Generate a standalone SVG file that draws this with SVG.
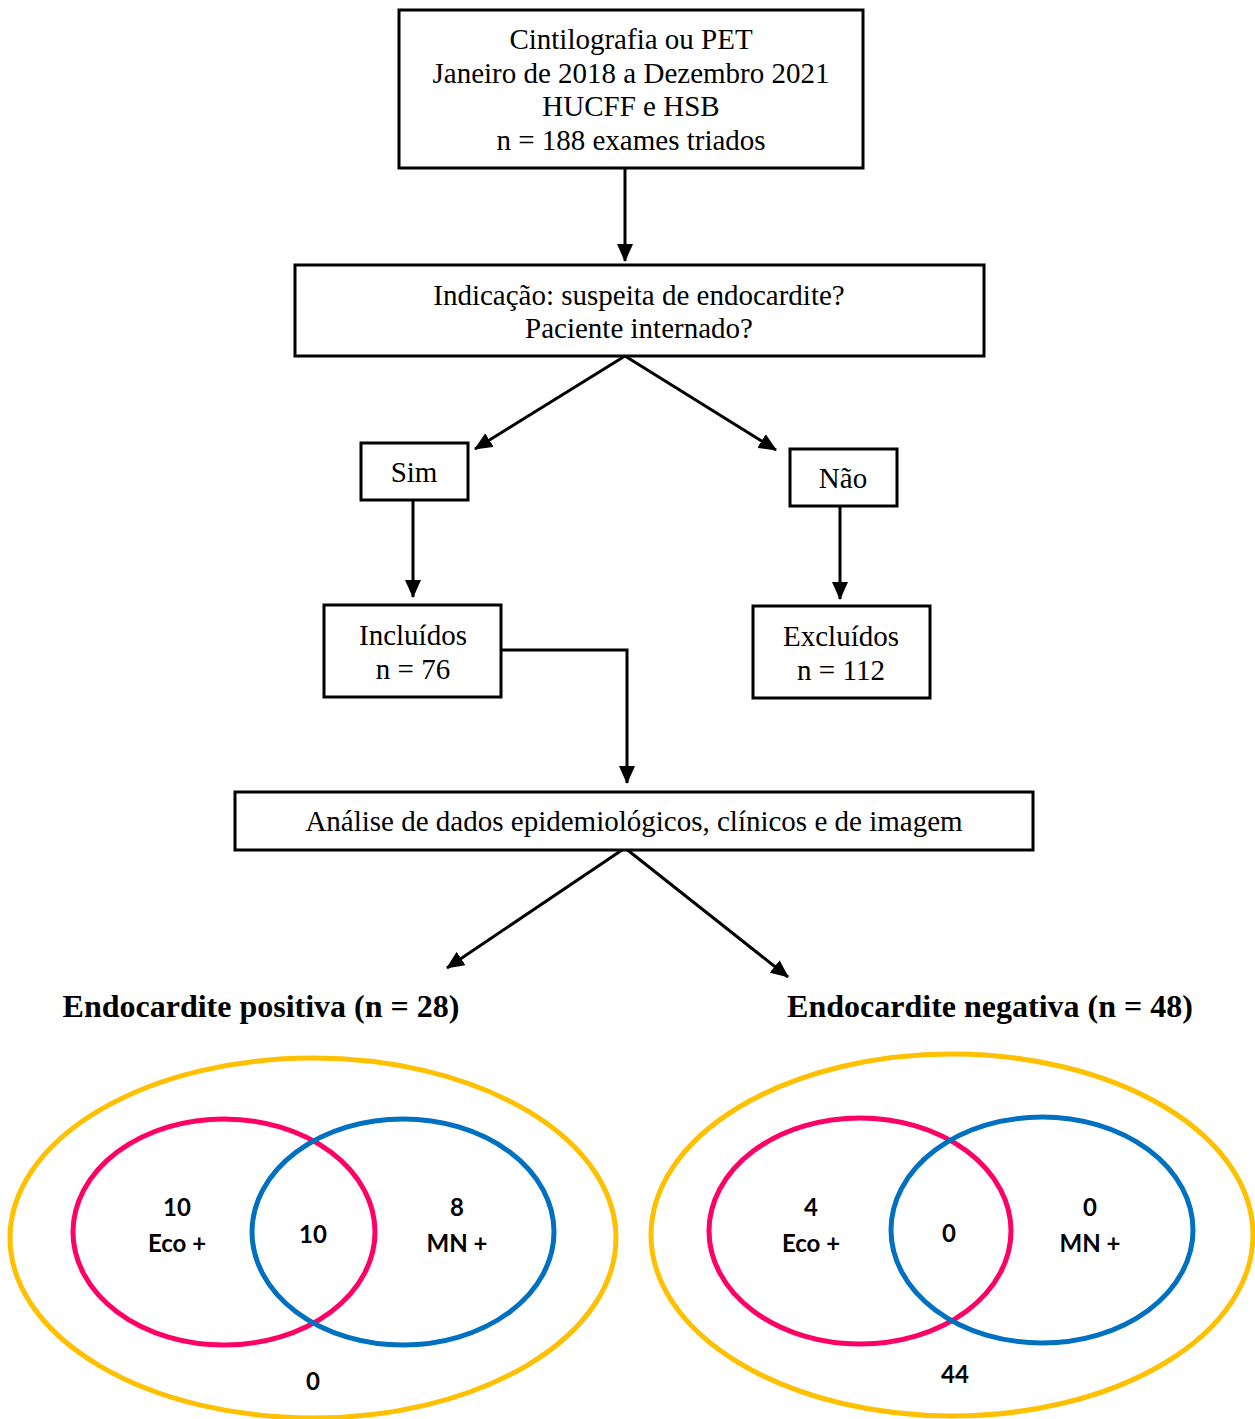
<svg xmlns="http://www.w3.org/2000/svg" width="1255" height="1419" viewBox="0 0 1255 1419">
<defs>
<marker id="arr" markerUnits="userSpaceOnUse" markerWidth="18" markerHeight="16" viewBox="0 0 18 16" refX="17" refY="8" orient="auto">
<path d="M0,0 L18,8 L0,16 Z" fill="#000"/>
</marker>
<style>
.box{fill:#fff;stroke:#000;stroke-width:3}
.t{font-family:"Liberation Serif","Times New Roman",serif;font-size:29px;fill:#000;text-anchor:middle}
.h{font-family:"Liberation Serif","Times New Roman",serif;font-size:32px;font-weight:bold;fill:#000;text-anchor:middle}
.v{font-family:Lato,"Liberation Sans",sans-serif;font-size:24px;font-weight:bold;fill:#000;text-anchor:middle}
.c{fill:none;stroke:#000;stroke-width:3}
.y{fill:none;stroke:#FFC000;stroke-width:5}
.p{fill:none;stroke:#FF0066;stroke-width:5}
.b{fill:none;stroke:#0070C0;stroke-width:5}
</style>
</defs>
<rect width="1255" height="1419" fill="#fff"/>
<g id="connectors">
<line class="c" x1="625" y1="168" x2="625" y2="261" marker-end="url(#arr)"/>
<line class="c" x1="625" y1="356" x2="475" y2="449" marker-end="url(#arr)"/>
<line class="c" x1="625" y1="356" x2="776" y2="450" marker-end="url(#arr)"/>
<line class="c" x1="413" y1="500" x2="413" y2="597" marker-end="url(#arr)"/>
<line class="c" x1="840" y1="506" x2="840" y2="599" marker-end="url(#arr)"/>
<polyline class="c" points="501,650 627,650 627,783" marker-end="url(#arr)"/>
<line class="c" x1="625" y1="848" x2="447" y2="968" marker-end="url(#arr)"/>
<line class="c" x1="625" y1="848" x2="788" y2="977" marker-end="url(#arr)"/>
</g>
<g id="n-inicio">
<rect class="box" x="399" y="10" width="464" height="158"/>
<text class="t" x="631" y="49">Cintilografia ou PET</text>
<text class="t" x="631" y="83">Janeiro de 2018 a Dezembro 2021</text>
<text class="t" x="631" y="116">HUCFF e HSB</text>
<text class="t" x="631" y="150">n = 188 exames triados</text>
</g>
<g id="n-indicacao">
<rect class="box" x="295" y="265" width="689" height="91"/>
<text class="t" x="639" y="305">Indicação: suspeita de endocardite?</text>
<text class="t" x="639" y="338">Paciente internado?</text>
</g>
<g id="n-sim">
<rect class="box" x="361" y="443" width="107" height="57"/>
<text class="t" x="414" y="482">Sim</text>
</g>
<g id="n-nao">
<rect class="box" x="790" y="449" width="107" height="57"/>
<text class="t" x="843" y="488">Não</text>
</g>
<g id="n-incluidos">
<rect class="box" x="324" y="605" width="177" height="92"/>
<text class="t" x="413" y="645">Incluídos</text>
<text class="t" x="413" y="679">n = 76</text>
</g>
<g id="n-excluidos">
<rect class="box" x="753" y="606" width="177" height="92"/>
<text class="t" x="841" y="646">Excluídos</text>
<text class="t" x="841" y="680">n = 112</text>
</g>
<g id="n-analise">
<rect class="box" x="235" y="792" width="798" height="58"/>
<text class="t" x="634" y="831">Análise de dados epidemiológicos, clínicos e de imagem</text>
</g>
<g id="n-positiva">
<text class="h" x="261" y="1017">Endocardite positiva (n = 28)</text>
<ellipse class="y" cx="313" cy="1238" rx="303" ry="180"/>
<ellipse class="p" cx="224" cy="1232" rx="151" ry="113"/>
<ellipse class="b" cx="403" cy="1232" rx="151" ry="113"/>
<text class="v" x="177" y="1216">10</text>
<text class="v" x="177" y="1252">Eco +</text>
<text class="v" x="313" y="1243">10</text>
<text class="v" x="457" y="1216">8</text>
<text class="v" x="457" y="1252">MN +</text>
<text class="v" x="313" y="1390">0</text>
</g>
<g id="n-negativa">
<text class="h" x="990" y="1017">Endocardite negativa (n = 48)</text>
<ellipse class="y" cx="952" cy="1235" rx="301" ry="181"/>
<ellipse class="p" cx="860" cy="1231" rx="151" ry="113"/>
<ellipse class="b" cx="1042" cy="1230" rx="151" ry="113"/>
<text class="v" x="811" y="1216">4</text>
<text class="v" x="811" y="1252">Eco +</text>
<text class="v" x="949" y="1242">0</text>
<text class="v" x="1090" y="1216">0</text>
<text class="v" x="1090" y="1252">MN +</text>
<text class="v" x="955" y="1383">44</text>
</g>
</svg>
